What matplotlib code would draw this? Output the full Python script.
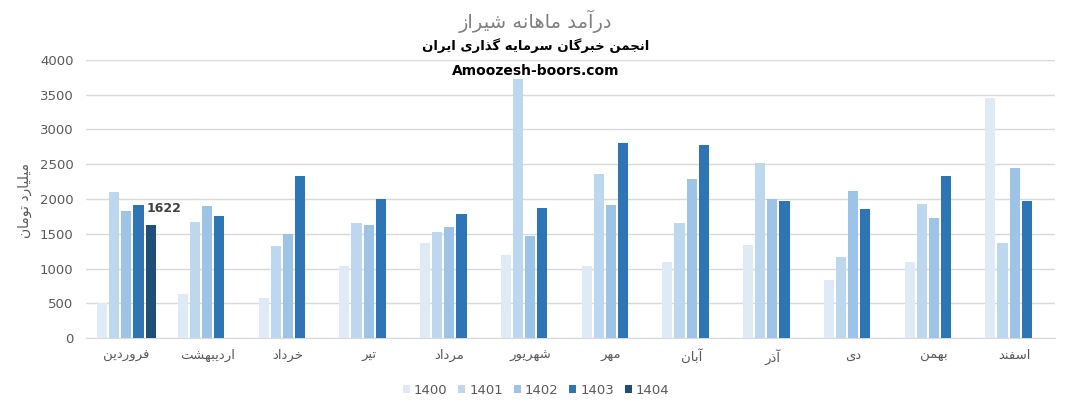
import matplotlib
matplotlib.use("Agg")
import matplotlib.pyplot as plt
import numpy as np

# ---------------- data ----------------
months = ["فروردین", "اردیبهشت", "خرداد", "تیر", "مرداد", "شهریور",
          "مهر", "آبان", "آذر", "دی", "بهمن", "اسفند"]
years = ["1400", "1401", "1402", "1403", "1404"]
v1400 = [500, 640, 580, 1030, 1360, 1200, 1030, 1100, 1340, 830, 1100, 3460]
v1401 = [2100, 1670, 1330, 1660, 1530, 3730, 2360, 1650, 2520, 1170, 1930, 1370]
v1402 = [1830, 1900, 1500, 1630, 1600, 1470, 1910, 2290, 2000, 2120, 1730, 2450]
v1403 = [1920, 1760, 2330, 2000, 1790, 1870, 2800, 2770, 1970, 1850, 2330, 1970]
v1404 = [1622, None, None, None, None, None, None, None, None, None, None, None]
series = [v1400, v1401, v1402, v1403, v1404]
colors = ["#DEEBF7", "#BDD7EE", "#9DC3E6", "#2E75B6", "#1F4E79"]
title = "درآمد ماهانه شیراز"
subtitle = "انجمن خبرگان سرمایه گذاری ایران"
site = "Amoozesh-boors.com"
ylabel = "میلیارد تومان"

# ---------------- Persian shaping ----------------
FORMS = {
    'ا': ('\uFE8D', '\uFE8E', None, None),
    'آ': ('\uFE81', '\uFE82', None, None),
    'ب': ('\uFE8F', '\uFE90', '\uFE91', '\uFE92'),
    'ت': ('\uFE95', '\uFE96', '\uFE97', '\uFE98'),
    'ج': ('\uFE9D', '\uFE9E', '\uFE9F', '\uFEA0'),
    'خ': ('\uFEA5', '\uFEA6', '\uFEA7', '\uFEA8'),
    'د': ('\uFEA9', '\uFEAA', None, None),
    'ذ': ('\uFEAB', '\uFEAC', None, None),
    'ر': ('\uFEAD', '\uFEAE', None, None),
    'ز': ('\uFEAF', '\uFEB0', None, None),
    'س': ('\uFEB1', '\uFEB2', '\uFEB3', '\uFEB4'),
    'ش': ('\uFEB5', '\uFEB6', '\uFEB7', '\uFEB8'),
    'ف': ('\uFED1', '\uFED2', '\uFED3', '\uFED4'),
    'گ': ('\uFB92', '\uFB93', '\uFB94', '\uFB95'),
    'ل': ('\uFEDD', '\uFEDE', '\uFEDF', '\uFEE0'),
    'م': ('\uFEE1', '\uFEE2', '\uFEE3', '\uFEE4'),
    'ن': ('\uFEE5', '\uFEE6', '\uFEE7', '\uFEE8'),
    'و': ('\uFEED', '\uFEEE', None, None),
    'ه': ('\uFEE9', '\uFEEA', '\uFEEB', '\uFEEC'),
    'ی': ('\uFBFC', '\uFBFD', '\uFBFE', '\uFBFF'),
}


def shape(text):
    out = []
    n = len(text)
    for i, ch in enumerate(text):
        if ch not in FORMS:
            out.append(ch)
            continue
        prev = text[i - 1] if i > 0 else None
        nxt = text[i + 1] if i < n - 1 else None
        join_prev = prev in FORMS and FORMS[prev][2] is not None
        join_next = nxt in FORMS and FORMS[ch][2] is not None
        iso, fin, ini, med = FORMS[ch]
        if join_prev and join_next:
            out.append(med)
        elif join_prev:
            out.append(fin)
        elif join_next:
            out.append(ini)
        else:
            out.append(iso)
    return "".join(out)[::-1]


plt.rcParams['font.family'] = ['DejaVu Sans']

fig = plt.figure(figsize=(10.72, 4.15), dpi=100)
ax = fig.add_axes([86 / 1072, 77 / 415, (1055 - 86) / 1072, 278 / 415])

x = np.arange(len(months))
slot = 0.15
bw = 0.125
for k, (vals, col, yr) in enumerate(zip(series, colors, years)):
    xs = [xi + (k - 2) * slot for xi, v in zip(x, vals) if v is not None]
    ys = [v for v in vals if v is not None]
    ax.bar(xs, ys, width=bw, color=col, label=yr, zorder=3)

# data label for 1404
for xi, v in zip(x, v1404):
    if v is not None:
        ax.annotate(str(v), (xi + 2 * slot, v), xytext=(10, 12),
                    textcoords="offset points", ha="center", va="center",
                    fontsize=9, fontweight="bold", color="#404040")

ax.set_xlim(-0.5, len(months) - 0.5)
ax.set_ylim(0, 4000)
ax.set_yticks(np.arange(0, 4001, 500))
ax.set_yticklabels([str(t) for t in range(0, 4001, 500)])
ax.set_xticks(x)
ax.set_xticklabels([shape(m) for m in months])
ax.tick_params(axis="both", length=0, colors="#595959", labelsize=9.5)
ax.tick_params(axis="y", pad=9)
ax.tick_params(axis="x", pad=8)
for s in ["top", "right", "left"]:
    ax.spines[s].set_visible(False)
ax.spines["bottom"].set_color("#D9D9D9")
ax.grid(axis="y", color="#D9D9D9", linewidth=1, zorder=0)
ax.set_axisbelow(True)

fig.text(25 / 1072, 1 - 200 / 415, shape(ylabel), rotation=90, ha="center",
         va="center", fontsize=10, color="#595959")

fig.text(0.5, 1 - 21 / 415, shape(title), ha="center", va="center",
         fontsize=14, color="#7F7F7F")
fig.text(0.5, 1 - 46 / 415, shape(subtitle), ha="center", va="center",
         fontsize=9.5, fontweight="bold", color="black")
fig.text(0.5, 1 - 71 / 415, site, ha="center", va="center",
         fontsize=10, fontweight="bold", color="black")

handles, labels = ax.get_legend_handles_labels()
fig.legend(handles, labels, loc="center", bbox_to_anchor=(0.5, 1 - 390 / 415),
           ncol=5, frameon=False, fontsize=9.5, handlelength=0.55,
           handleheight=0.55, handletextpad=0.3, columnspacing=0.8,
           labelcolor="#595959")

fig.savefig("out.png", dpi=100)
